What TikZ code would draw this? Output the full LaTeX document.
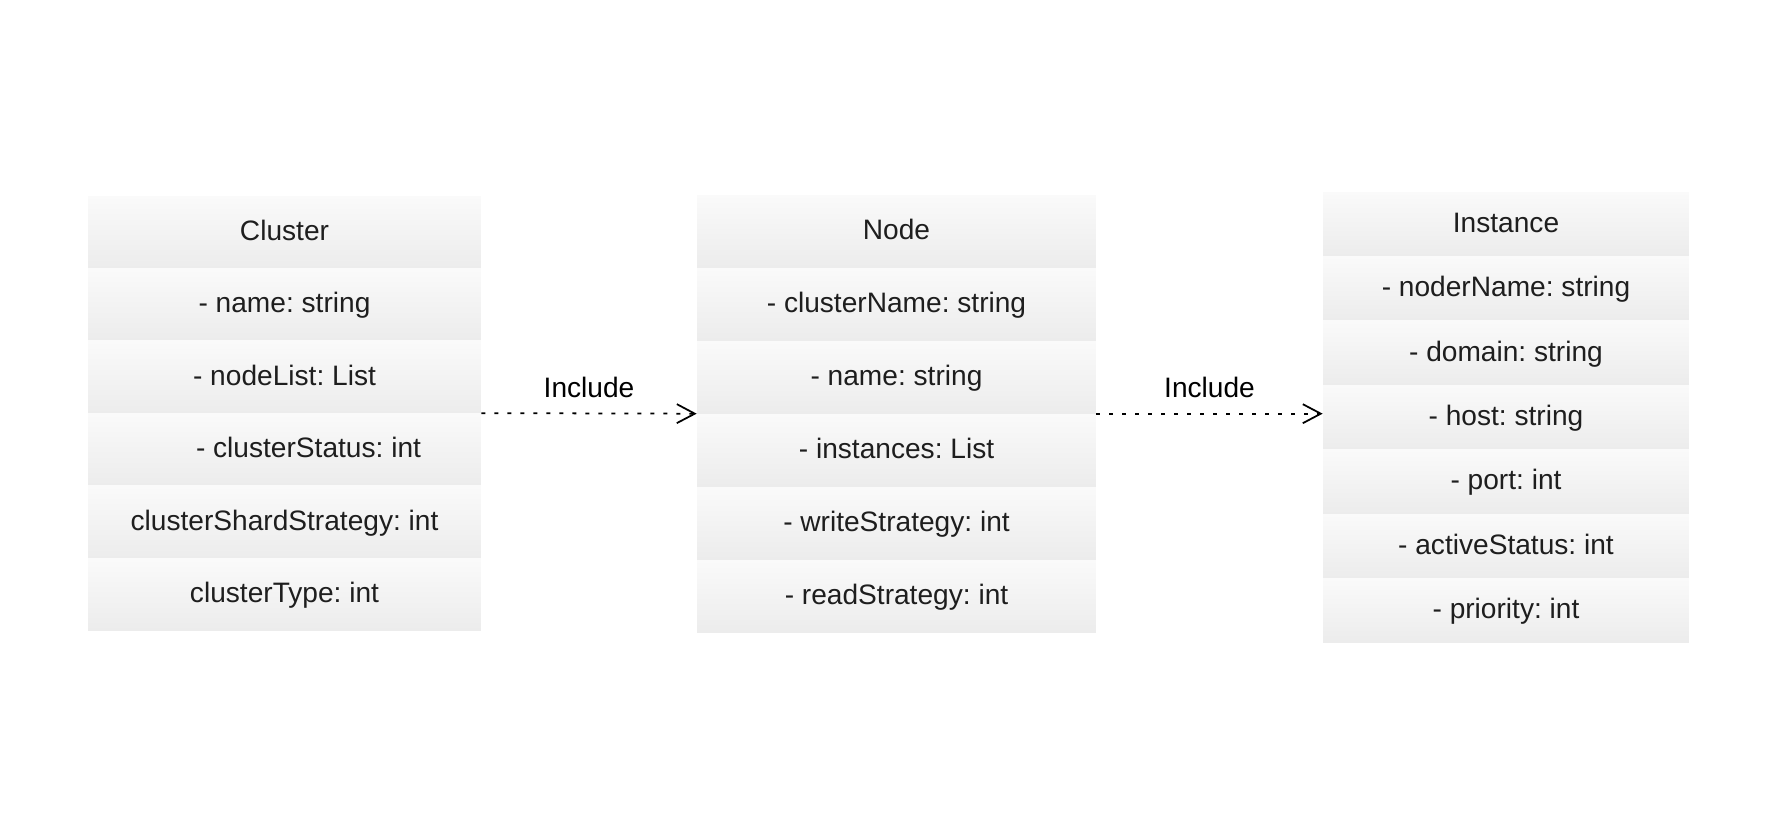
\documentclass[tikz,border=0pt]{standalone}
\usepackage{fontspec}
\setmainfont{Liberation Sans}
\frenchspacing
\usetikzlibrary{positioning,chains,arrows.meta}
\definecolor{celltop}{HTML}{FAFAFA}
\definecolor{cellbot}{HTML}{ECECEC}
\definecolor{celltext}{HTML}{1E1E1E}
\tikzset{
	>={Straight Barb[length=0.36cm, width=0.38cm]},
	field/.style={
		rectangle,
		top color=celltop,
		bottom color=cellbot,
		text=celltext,
		inner sep=0pt,
		text height=1.2em,
		text depth=0.25em,
		text centered,
		font=\fontsize{16}{19}\selectfont,
		on chain},
	clusterfield/.style={field, minimum width=7.86cm, minimum height=1.436cm},
	nodefield/.style={field, minimum width=7.98cm, minimum height=1.446cm},
	instfield/.style={field, minimum width=7.32cm, minimum height=1.274cm},
	include/.style={draw, ->, line width=1pt, dash pattern=on 0.08cm off 0.18cm},
	relname/.style={midway, above=0.3cm, inner sep=0pt, text=black,
		font=\fontsize{16}{19}\selectfont},
}

\begin{document}
\begin{tikzpicture}[x=0.02cm, y=-0.02cm, node distance=0pt]
\useasboundingbox (0,0) rectangle (1770,826);

% Cluster
\begin{scope}[start chain=cluster going below]
\node[clusterfield] (cl0) at (284.5,231.9) {Cluster};
\node[clusterfield] (cl1) {- name: string};
\node[clusterfield] (cl2) {- nodeList: List};
\node[clusterfield] (cl3) {\hspace*{0.96cm}- clusterStatus: int};
\node[clusterfield] (cl4) {clusterShardStrategy: int};
\node[clusterfield] (cl5) {clusterType: int};
\end{scope}

% Node
\begin{scope}[start chain=nodes going below]
\node[nodefield] (nd0) at (896.5,231.2) {Node};
\node[nodefield] (nd1) {- clusterName: string};
\node[nodefield] (nd2) {- name: string};
\node[nodefield] (nd3) {- instances: List};
\node[nodefield] (nd4) {- writeStrategy: int};
\node[nodefield] (nd5) {- readStrategy: int};
\end{scope}

% Instance
\begin{scope}[start chain=instance going below]
\node[instfield] (in0) at (1506,223.9) {Instance};
\node[instfield] (in1) {- noderName: string};
\node[instfield] (in2) {- domain: string};
\node[instfield] (in3) {- host: string};
\node[instfield] (in4) {- port: int};
\node[instfield] (in5) {- activeStatus: int};
\node[instfield] (in6) {- priority: int};
\end{scope}

\draw[include] (cl2.south east) -- (nd2.south west) node[relname] {Include};
\draw[include] (nd2.south east) -- (nd2.south east -| in3.west) node[relname] {Include};
\end{tikzpicture}
\end{document}
